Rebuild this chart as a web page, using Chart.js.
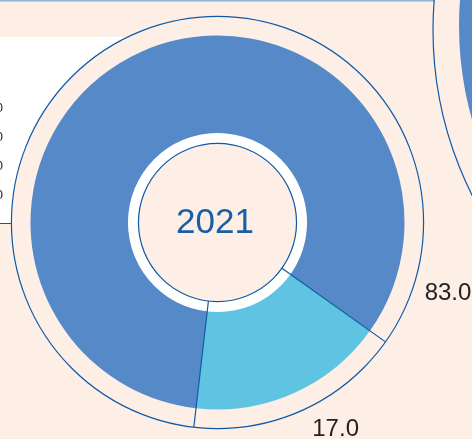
<!DOCTYPE html>
<html>
<head>
<meta charset="utf-8">
<script src="https://cdn.jsdelivr.net/npm/chart.js@4"></script>
<style>
  html, body { margin: 0; padding: 0; background: #fdeee6; overflow: hidden; }
  #wrap { width: 472px; height: 439px; position: relative; }
</style>
</head>
<body>
<div id="wrap"><canvas id="myChart" width="472" height="439"></canvas></div>
<script>
// Share values for 2021
const categories = ['Share A', 'Share B'];
const shares = [83.0, 17.0];
const shareLabels = ['83.0', '17.0'];
const yearLabel = '2021';

const blue = '#5589c8';
const lightBlue = '#5ec4e1';
const lineBlue = '#0d5aa7';
const peach = '#fdeee6';

// background bits of the infographic: white panel, outer rings, the next chart on the right
const backdrop = {
    id: 'backdrop',
    beforeDatasetsDraw(chart) {
        const ctx = chart.ctx;
        const arc = chart.getDatasetMeta(0).data[0];
        const cx = arc.x, cy = arc.y;
        ctx.save();
        // top rule
        ctx.fillStyle = '#8fb1dc';
        ctx.fillRect(0, 0, 472, 1.5);
        // white panel at left
        ctx.fillStyle = '#ffffff';
        ctx.fillRect(0, 37, 200, 186);
        ctx.strokeStyle = lineBlue;
        ctx.lineWidth = 1;
        ctx.beginPath();
        ctx.moveTo(0, 223.5);
        ctx.lineTo(200, 223.5);
        ctx.stroke();
        ctx.fillStyle = '#222';
        ctx.font = '13px "Liberation Sans", Arial, sans-serif';
        ctx.textAlign = 'right';
        ctx.textBaseline = 'middle';
        [108, 137, 166, 195].forEach(y => ctx.fillText('0', 3, y));
        // outer ring of this chart
        const rOuter = arc.outerRadius * 1.102;
        ctx.fillStyle = peach;
        ctx.beginPath();
        ctx.arc(cx, cy, rOuter, 0, Math.PI * 2);
        ctx.fill();
        ctx.lineWidth = 1.2;
        ctx.strokeStyle = lineBlue;
        ctx.stroke();
        // chart to the right (only its edge is visible)
        ctx.fillStyle = peach;
        ctx.beginPath();
        ctx.arc(802, 30, 369, 0, Math.PI * 2);
        ctx.fill();
        ctx.stroke();
        ctx.fillStyle = blue;
        ctx.beginPath();
        ctx.arc(802, 26, 343, 0, Math.PI * 2);
        ctx.fill();
        ctx.restore();
    },
    afterDatasetsDraw(chart) {
        const ctx = chart.ctx;
        const arcs = chart.getDatasetMeta(0).data;
        const cx = arcs[0].x, cy = arcs[0].y;
        const R = arcs[0].outerRadius;
        const rIn = arcs[0].innerRadius;
        const rCore = rIn * 0.888;
        const rLine = R * 1.102;
        ctx.save();
        // white ring and inner disc
        ctx.fillStyle = '#ffffff';
        ctx.beginPath();
        ctx.arc(cx, cy, rIn + 0.5, 0, Math.PI * 2);
        ctx.fill();
        ctx.fillStyle = peach;
        ctx.beginPath();
        ctx.arc(cx, cy, rCore, 0, Math.PI * 2);
        ctx.fill();
        ctx.strokeStyle = lineBlue;
        ctx.lineWidth = 1.2;
        ctx.stroke();
        // dividers at each segment start
        arcs.forEach(a => {
            const ang = a.startAngle;
            ctx.beginPath();
            ctx.moveTo(cx + Math.cos(ang) * rCore, cy + Math.sin(ang) * rCore);
            ctx.lineTo(cx + Math.cos(ang) * rLine, cy + Math.sin(ang) * rLine);
            ctx.stroke();
        });
        // value labels outside the ring
        ctx.fillStyle = '#222';
        ctx.font = '24px "Liberation Sans", Arial, sans-serif';
        ctx.textAlign = 'center';
        ctx.textBaseline = 'middle';
        const deg = Math.PI / 180;
        const spots = [
            { ang: arcs[0].endAngle - 18.4 * deg, r: R * 1.289 },
            { ang: (arcs[1].startAngle + arcs[1].endAngle) / 2 - 5.7 * deg, r: R * 1.275 }
        ];
        spots.forEach((s, i) => {
            ctx.fillText(shareLabels[i], cx + Math.cos(s.ang) * s.r, cy + Math.sin(s.ang) * s.r);
        });
        // year in the middle
        ctx.fillStyle = '#1a5ea8';
        ctx.font = '35px "Liberation Sans", Arial, sans-serif';
        ctx.fillText(yearLabel, cx - 2.5, cy + 1);
        ctx.restore();
    }
};

const ctx = document.getElementById('myChart').getContext('2d');
const myChart = new Chart(ctx, {
    type: 'doughnut',
    data: {
        labels: categories,
        datasets: [{
            data: shares,
            backgroundColor: [blue, lightBlue],
            borderWidth: 0
        }]
    },
    options: {
        responsive: false,
        animation: false,
        rotation: 186.6,
        cutout: '47.6%',
        layout: {
            padding: { left: 30.5, top: 35.5, right: 67.5, bottom: 29.5 }
        },
        plugins: {
            legend: { display: false },
            tooltip: { enabled: false }
        }
    },
    plugins: [backdrop]
});
</script>
</body>
</html>
